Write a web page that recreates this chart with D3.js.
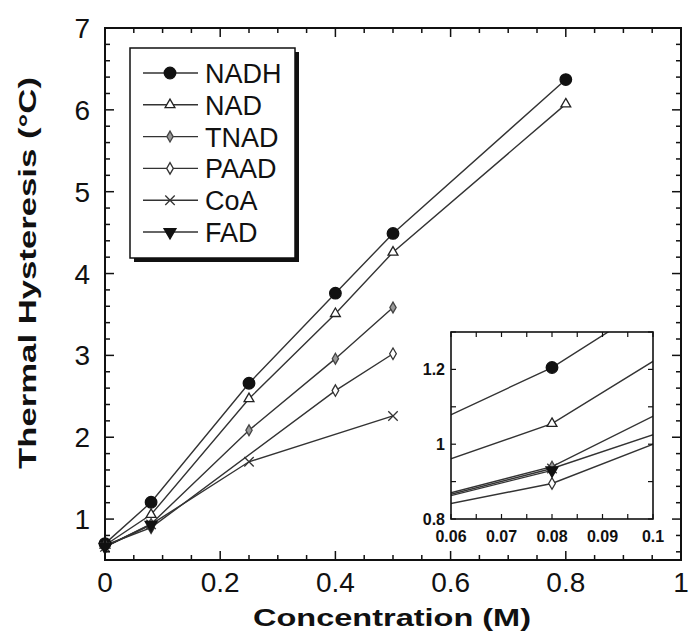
<!DOCTYPE html>
<html lang="en">
<head>
	<meta charset="UTF-8">
	<title>Thermal Hysteresis</title>
	<script src="https://d3js.org/d3.v7.min.js"></script>
	<style>
		body{
			margin: 0;
			background: white;
		}
		svg text{
			font-family: Arial, "Liberation Sans", sans-serif;
			fill: #111;
		}
	</style>
</head>
<body>
	<div id="chart"></div>
	<script>
		// data
		const seriesNames = ["NADH", "NAD", "TNAD", "PAAD", "CoA", "FAD"];
		const nadhX = [0, 0.08, 0.25, 0.4, 0.5, 0.8];
		const nadhY = [0.70, 1.205, 2.66, 3.76, 4.49, 6.37];
		const nadX = [0, 0.08, 0.25, 0.4, 0.5, 0.8];
		const nadY = [0.68, 1.055, 2.47, 3.51, 4.26, 6.07];
		const tnadX = [0, 0.08, 0.25, 0.4, 0.5];
		const tnadY = [0.66, 0.94, 2.085, 2.96, 3.585];
		const paadX = [0, 0.08, 0.4, 0.5];
		const paadY = [0.68, 0.895, 2.57, 3.02];
		const coaX = [0, 0.08, 0.25, 0.5];
		const coaY = [0.66, 0.935, 1.70, 2.26];
		const fadX = [0, 0.08];
		const fadY = [0.66, 0.93];
		const xTicks = [0, 0.2, 0.4, 0.6, 0.8, 1];
		const yTicks = [1, 2, 3, 4, 5, 6, 7];
		const insetXTicks = [0.06, 0.07, 0.08, 0.09, 0.1];
		const insetYTicks = [0.8, 1, 1.2];

		const seriesX = [nadhX, nadX, tnadX, paadX, coaX, fadX];
		const seriesY = [nadhY, nadY, tnadY, paadY, coaY, fadY];
		const series = seriesNames.map((name, i) => ({
			name: name,
			points: seriesX[i].map((x, j) => ({x: x, y: seriesY[i][j]}))
		}));

		const width = 695;
		const height = 644;
		const svg = d3.select('#chart')
			.append('svg')
			.attr('width', width)
			.attr('height', height);

		// main scales
		const x = d3.scaleLinear().domain([0, 1]).range([105, 681]);
		const y = d3.scaleLinear().domain([0.5, 7]).range([560, 28]);

		// marker shapes
		const markerStyle = {
			NADH: {type: d3.symbolCircle, size: 105, fill: '#111', stroke: '#111', rot: 0},
			NAD: {type: d3.symbolTriangle, size: 42, fill: 'white', stroke: '#222', rot: 0},
			TNAD: {type: d3.symbolDiamond, size: 34, fill: '#999', stroke: '#444', rot: 0},
			PAAD: {type: d3.symbolDiamond, size: 38, fill: 'white', stroke: '#333', rot: 0},
			CoA: {type: d3.symbolX, size: 60, fill: 'none', stroke: '#333', rot: 0},
			FAD: {type: d3.symbolTriangle, size: 62, fill: '#111', stroke: '#111', rot: 180}
		};
		function drawMarker(g, name, px, py){
			const m = markerStyle[name];
			g.append('path')
				.attr('d', d3.symbol().type(m.type).size(m.size)())
				.attr('transform', `translate(${px},${py}) rotate(${m.rot})`)
				.attr('fill', m.fill)
				.attr('stroke', m.stroke)
				.attr('stroke-width', 1.3);
		}

		// lines + markers, main plot
		const line = d3.line().x(d => x(d.x)).y(d => y(d.y));
		const plot = svg.append('g');
		plot.selectAll('path.series')
			.data(series).enter()
			.append('path')
			.attr('class', 'series')
			.attr('d', d => line(d.points))
			.attr('fill', 'none')
			.attr('stroke', '#333')
			.attr('stroke-width', 1.4);
		series.forEach(s => {
			s.points.forEach(p => drawMarker(plot, s.name, x(p.x), y(p.y)));
		});

		// frame + inward ticks on all four sides
		const frame = svg.append('g');
		frame.append('rect')
			.attr('x', x(0)).attr('y', y(7))
			.attr('width', x(1) - x(0)).attr('height', y(0.5) - y(7))
			.attr('fill', 'none').attr('stroke', '#111').attr('stroke-width', 2);
		const xMinor = d3.range(0, 1.0001, 0.05);
		const yMinor = d3.range(0.6, 7.0001, 0.2);
		function isMajor(v, step){ return Math.abs(v / step - Math.round(v / step)) < 1e-6; }
		xMinor.forEach(v => {
			const len = isMajor(v, 0.2) ? 9 : 5;
			frame.append('line').attr('x1', x(v)).attr('x2', x(v)).attr('y1', y(0.5)).attr('y2', y(0.5) - len);
			frame.append('line').attr('x1', x(v)).attr('x2', x(v)).attr('y1', y(7)).attr('y2', y(7) + len);
		});
		yMinor.forEach(v => {
			const len = isMajor(v, 1) ? 9 : 5;
			frame.append('line').attr('x1', x(0)).attr('x2', x(0) + len).attr('y1', y(v)).attr('y2', y(v));
			frame.append('line').attr('x1', x(1)).attr('x2', x(1) - len).attr('y1', y(v)).attr('y2', y(v));
		});
		frame.selectAll('line').attr('stroke', '#111').attr('stroke-width', 1.5);

		// tick labels
		svg.append('g').selectAll('text')
			.data(xTicks).enter()
			.append('text')
			.attr('x', d => x(d))
			.attr('y', 592)
			.attr('text-anchor', 'middle')
			.attr('font-size', 28)
			.text(d => d);
		svg.append('g').selectAll('text')
			.data(yTicks).enter()
			.append('text')
			.attr('x', 90)
			.attr('y', d => y(d) + 10)
			.attr('text-anchor', 'end')
			.attr('font-size', 28)
			.text(d => d);

		// axis titles
		svg.append('text')
			.attr('x', 392)
			.attr('y', 626)
			.attr('text-anchor', 'middle')
			.attr('font-size', 24)
			.attr('font-weight', 'bold')
			.attr('textLength', 278)
			.attr('lengthAdjust', 'spacingAndGlyphs')
			.text('Concentration (M)');
		svg.append('text')
			.attr('transform', 'translate(36,273) rotate(-90)')
			.attr('text-anchor', 'middle')
			.attr('font-size', 24)
			.attr('font-weight', 'bold')
			.attr('textLength', 392)
			.attr('lengthAdjust', 'spacingAndGlyphs')
			.text('Thermal Hysteresis (°C)');

		// legend
		const legend = svg.append('g');
		legend.append('rect')
			.attr('x', 134).attr('y', 52).attr('width', 165).attr('height', 210)
			.attr('fill', '#111');
		legend.append('rect')
			.attr('x', 130).attr('y', 48).attr('width', 165).attr('height', 210)
			.attr('fill', 'white').attr('stroke', '#111').attr('stroke-width', 1.5);
		seriesNames.forEach((name, i) => {
			const ly = 73 + i * 31.8;
			legend.append('line')
				.attr('x1', 143).attr('x2', 198).attr('y1', ly).attr('y2', ly)
				.attr('stroke', '#333').attr('stroke-width', 1.4);
			drawMarker(legend, name, 170, ly);
			legend.append('text')
				.attr('x', 205).attr('y', ly + 10)
				.attr('font-size', 27)
				.text(name);
		});

		// inset
		const ix = d3.scaleLinear().domain([0.06, 0.1]).range([451, 653]);
		const iy = d3.scaleLinear().domain([0.8, 1.3]).range([519, 332]);
		const inset = svg.append('g');
		inset.append('rect')
			.attr('x', 451).attr('y', 332).attr('width', 202).attr('height', 187)
			.attr('fill', 'white');
		svg.append('clipPath').attr('id', 'insetClip')
			.append('rect')
			.attr('x', 451).attr('y', 332).attr('width', 202).attr('height', 187);
		const iline = d3.line().x(d => ix(d.x)).y(d => iy(d.y));
		const insetPlot = inset.append('g').attr('clip-path', 'url(#insetClip)');
		insetPlot.selectAll('path')
			.data(series).enter()
			.append('path')
			.attr('d', d => iline(d.points))
			.attr('fill', 'none')
			.attr('stroke', '#333')
			.attr('stroke-width', 1.4);
		series.forEach(s => {
			s.points.filter(p => p.x >= 0.06 && p.x <= 0.1)
				.forEach(p => drawMarker(insetPlot, s.name, ix(p.x), iy(p.y)));
		});
		inset.append('rect')
			.attr('x', 451).attr('y', 332).attr('width', 202).attr('height', 187)
			.attr('fill', 'none').attr('stroke', '#111').attr('stroke-width', 1.6);
		const ixMinor = d3.range(0.06, 0.1001, 0.005);
		const iyMinor = d3.range(0.8, 1.3001, 0.1);
		ixMinor.forEach(v => {
			inset.append('line').attr('x1', ix(v)).attr('x2', ix(v)).attr('y1', 519).attr('y2', 514);
			inset.append('line').attr('x1', ix(v)).attr('x2', ix(v)).attr('y1', 332).attr('y2', 337);
		});
		iyMinor.forEach(v => {
			inset.append('line').attr('x1', 451).attr('x2', 456).attr('y1', iy(v)).attr('y2', iy(v));
			inset.append('line').attr('x1', 653).attr('x2', 648).attr('y1', iy(v)).attr('y2', iy(v));
		});
		inset.selectAll('line').attr('stroke', '#111').attr('stroke-width', 1.2);
		inset.append('g').selectAll('text')
			.data(insetXTicks).enter()
			.append('text')
			.attr('x', d => ix(d))
			.attr('y', 542)
			.attr('text-anchor', 'middle')
			.attr('font-size', 16)
			.attr('font-weight', 'bold')
			.text(d => d);
		inset.append('g').selectAll('text')
			.data(insetYTicks).enter()
			.append('text')
			.attr('x', 445)
			.attr('y', d => iy(d) + 6)
			.attr('text-anchor', 'end')
			.attr('font-size', 16)
			.attr('font-weight', 'bold')
			.text(d => d);
	</script>
</body>
</html>
